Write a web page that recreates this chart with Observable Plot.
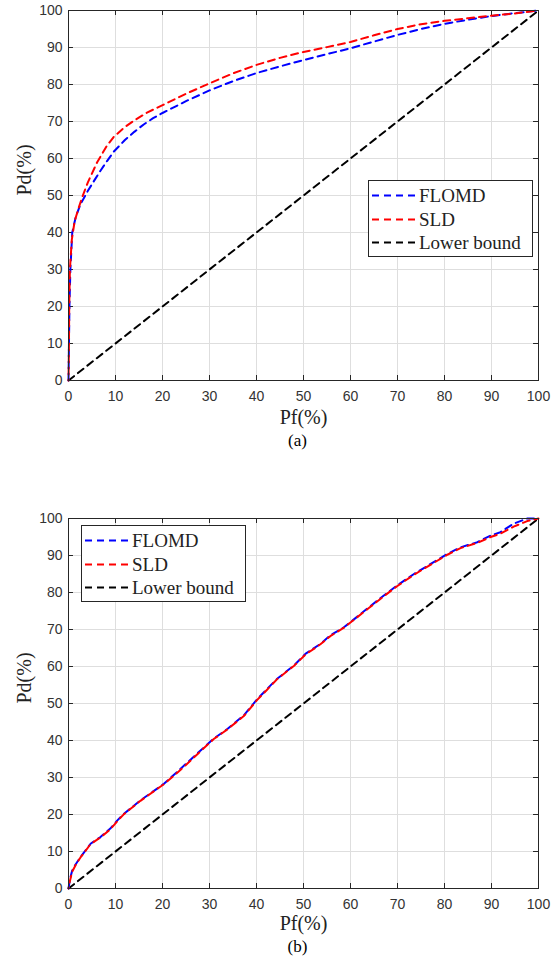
<!DOCTYPE html>
<html><head><meta charset="utf-8">
<script src="https://cdn.jsdelivr.net/npm/d3@7"></script>
<script src="https://cdn.jsdelivr.net/npm/@observablehq/plot@0.6"></script>
<style>
body{margin:0;background:#fff}
#root{position:relative;width:556px;height:961px;background:#fff}
.panel{position:absolute;left:0}
</style></head>
<body><div id="root"></div>
<script>
const xTicks = [0,10,20,30,40,50,60,70,80,90,100];
const yTicks = [0,10,20,30,40,50,60,70,80,90,100];
const seriesNames = ["FLOMD","SLD","Lower bound"];
const seriesColors = ["#0000ff","#ff0000","#000000"];
const xLabel = "Pf(%)";
const yLabel = "Pd(%)";
const captions = ["(a)","(b)"];

// Panel (a)
const pfA_FLOMD = [0,0.1,0.2,0.4,0.8,1.5,2.5,4,5.7,6.8,8.2,9.6,12,14,16,18,20,25,30,35,40,45,50,55,60,65,70,75,80,85,90,95,100];
const pdA_FLOMD = [0,10,20,30,40,44,47.5,51,54.5,56.7,59.3,61.8,65,67.2,69.2,70.9,72.3,75.5,78.4,80.9,83.1,84.9,86.6,88.2,89.8,91.6,93.4,95,96.4,97.5,98.5,99.3,100];
const pfA_SLD = [0,0.1,0.15,0.3,0.7,1.3,2,2.9,4.1,6.1,8.2,9.6,12,13.9,16.7,19.8,25,30,35,40,45,50,55,60,65,70,75,80,85,90,95,100];
const pdA_SLD = [0,10,20,30,38,43,46,49.5,53.5,59,63.5,65.8,68.5,70.2,72.4,74.3,77.5,80.3,83,85.3,87.2,88.8,90.1,91.5,93.3,95,96.3,97.2,97.9,98.6,99.2,100];

// Panel (b)
const pfB_FLOMD = [0,0.3,0.8,1.5,2.55,4.7,6.8,8.9,10.4,11.8,15.3,20.3,23.8,28.1,30.9,33.8,37.3,40.1,42.3,44.4,48,50.4,53.6,55.7,58.6,60.4,63.9,67.1,69.9,73.5,77.7,80.6,83.4,87,89.8,91.9,94.7,97.6,100];
const pdB_FLOMD = [0,2.5,4.9,6.5,8.5,12.1,13.9,16.2,18.4,20.2,23.8,28.3,32.3,37.3,40.5,43.1,46.8,51.1,54,56.7,60.3,63.4,66.1,68.4,70.6,72.4,76,79.2,81.9,85,88.2,90.4,92.2,93.6,95.4,96.3,98.6,100,100];
const pfB_SLD = [0,0.3,0.8,1.5,2.55,4.7,6.8,8.9,10.4,11.8,15.3,20.3,23.8,28.1,30.9,33.8,37.3,40.1,42.3,44.4,48,50.4,53.6,55.7,58.6,60.4,63.9,67.1,69.9,73.5,77.7,80.6,83.4,87,89.8,91.9,94.7,97.6,100];
const pdB_SLD = [0,2.0,4.6,6.3,8.4,12.0,13.8,16.0,18.2,20.1,23.7,28.2,32.0,37.1,40.4,43.0,46.6,50.9,53.8,56.6,60.2,63.2,66.0,68.2,70.5,72.3,75.8,79.0,81.7,84.8,88.0,90.2,92.0,93.4,95.0,95.9,97.8,99.3,100];

// Lower bound
const pfBound = [0,100];
const pdBound = [0,100];

const toRows = (xs, ys) => xs.map((x, i) => ({x, y: ys[i]}));
const serif = "'Liberation Serif', 'Times New Roman', serif";

function makePanel(flomd, sld, caption, legendBox, labelDy, capDy) {
  const lineOpts = {x: "x", y: "y", strokeWidth: 2, strokeDasharray: "7,5"};
  const plot = Plot.plot({
    width: 556, height: 450,
    marginTop: 10, marginBottom: 70, marginLeft: 68, marginRight: 18,
    x: {domain: [0,100]},
    y: {domain: [0,100]},
    style: {fontFamily: "'Liberation Sans', Arial, sans-serif", fontSize: "14px", color: "#333", background: "#fff"},
    marks: [
      Plot.gridX(xTicks, {stroke: "#dedede", strokeOpacity: 1}),
      Plot.gridY(yTicks, {stroke: "#dedede", strokeOpacity: 1}),
      Plot.axisX(xTicks, {tickSize: 0, tickPadding: 11, label: null, fontSize: 14}),
      Plot.axisY(yTicks, {tickSize: 0, tickPadding: 6, label: null, fontSize: 14}),
      Plot.ruleX(xTicks, {x: d => d, y1: 0, y2: 1.35, stroke: "#262626"}),
      Plot.ruleX(xTicks, {x: d => d, y1: 98.65, y2: 100, stroke: "#262626"}),
      Plot.ruleY(yTicks, {y: d => d, x1: 0, x2: 1.06, stroke: "#262626"}),
      Plot.ruleY(yTicks, {y: d => d, x1: 98.94, x2: 100, stroke: "#262626"}),
      Plot.line(toRows(pfBound, pdBound), {...lineOpts, stroke: seriesColors[2]}),
      Plot.line(flomd, {...lineOpts, stroke: seriesColors[0]}),
      Plot.line(sld, {...lineOpts, stroke: seriesColors[1], strokeDashoffset: 6}),
      Plot.frame({stroke: "#262626", strokeWidth: 1}),
      Plot.text([xLabel], {frameAnchor: "bottom", lineAnchor: "bottom", dy: labelDy, fontFamily: serif, fontSize: 20, fill: "#222"}),
      Plot.text([yLabel], {frameAnchor: "left", rotate: -90, dx: -44, fontFamily: serif, fontSize: 20, fill: "#222"}),
      Plot.text([caption], {frameAnchor: "bottom", lineAnchor: "bottom", dx: -6, dy: capDy, fontFamily: serif, fontSize: 17, fill: "#000"})
    ]
  });
  // legend
  const svg = d3.select(plot);
  const g = svg.append("g").attr("transform", `translate(${legendBox[0]},${legendBox[1]})`);
  g.append("rect").attr("x", 0.5).attr("y", 0.5).attr("width", 164).attr("height", 76)
    .attr("fill", "#fff").attr("stroke", "#262626").attr("stroke-width", 1);
  const baselines = [22, 46, 69];
  seriesNames.forEach((name, i) => {
    const yb = baselines[i];
    g.append("line").attr("x1", 4).attr("x2", 48).attr("y1", yb - 6.5).attr("y2", yb - 6.5)
      .attr("stroke", seriesColors[i]).attr("stroke-width", 2).attr("stroke-dasharray", "7,5");
    g.append("text").attr("x", 51).attr("y", yb).text(name)
      .attr("text-anchor", "start")
      .attr("font-family", serif).attr("font-size", 19).attr("fill", "#222");
  });
  return plot;
}

const root = document.getElementById("root");
const pA = makePanel(toRows(pfA_FLOMD, pdA_FLOMD), toRows(pfA_SLD, pdA_SLD), captions[0], [368, 180], 43, 65);
const pB = makePanel(toRows(pfB_FLOMD, pdB_FLOMD), toRows(pfB_SLD, pdB_SLD), captions[1], [81, 17], 41, 63);
const dA = document.createElement("div"); dA.className = "panel"; dA.style.top = "0px"; dA.appendChild(pA);
const dB = document.createElement("div"); dB.className = "panel"; dB.style.top = "508px"; dB.appendChild(pB);
root.appendChild(dA); root.appendChild(dB);
</script>
</body></html>
